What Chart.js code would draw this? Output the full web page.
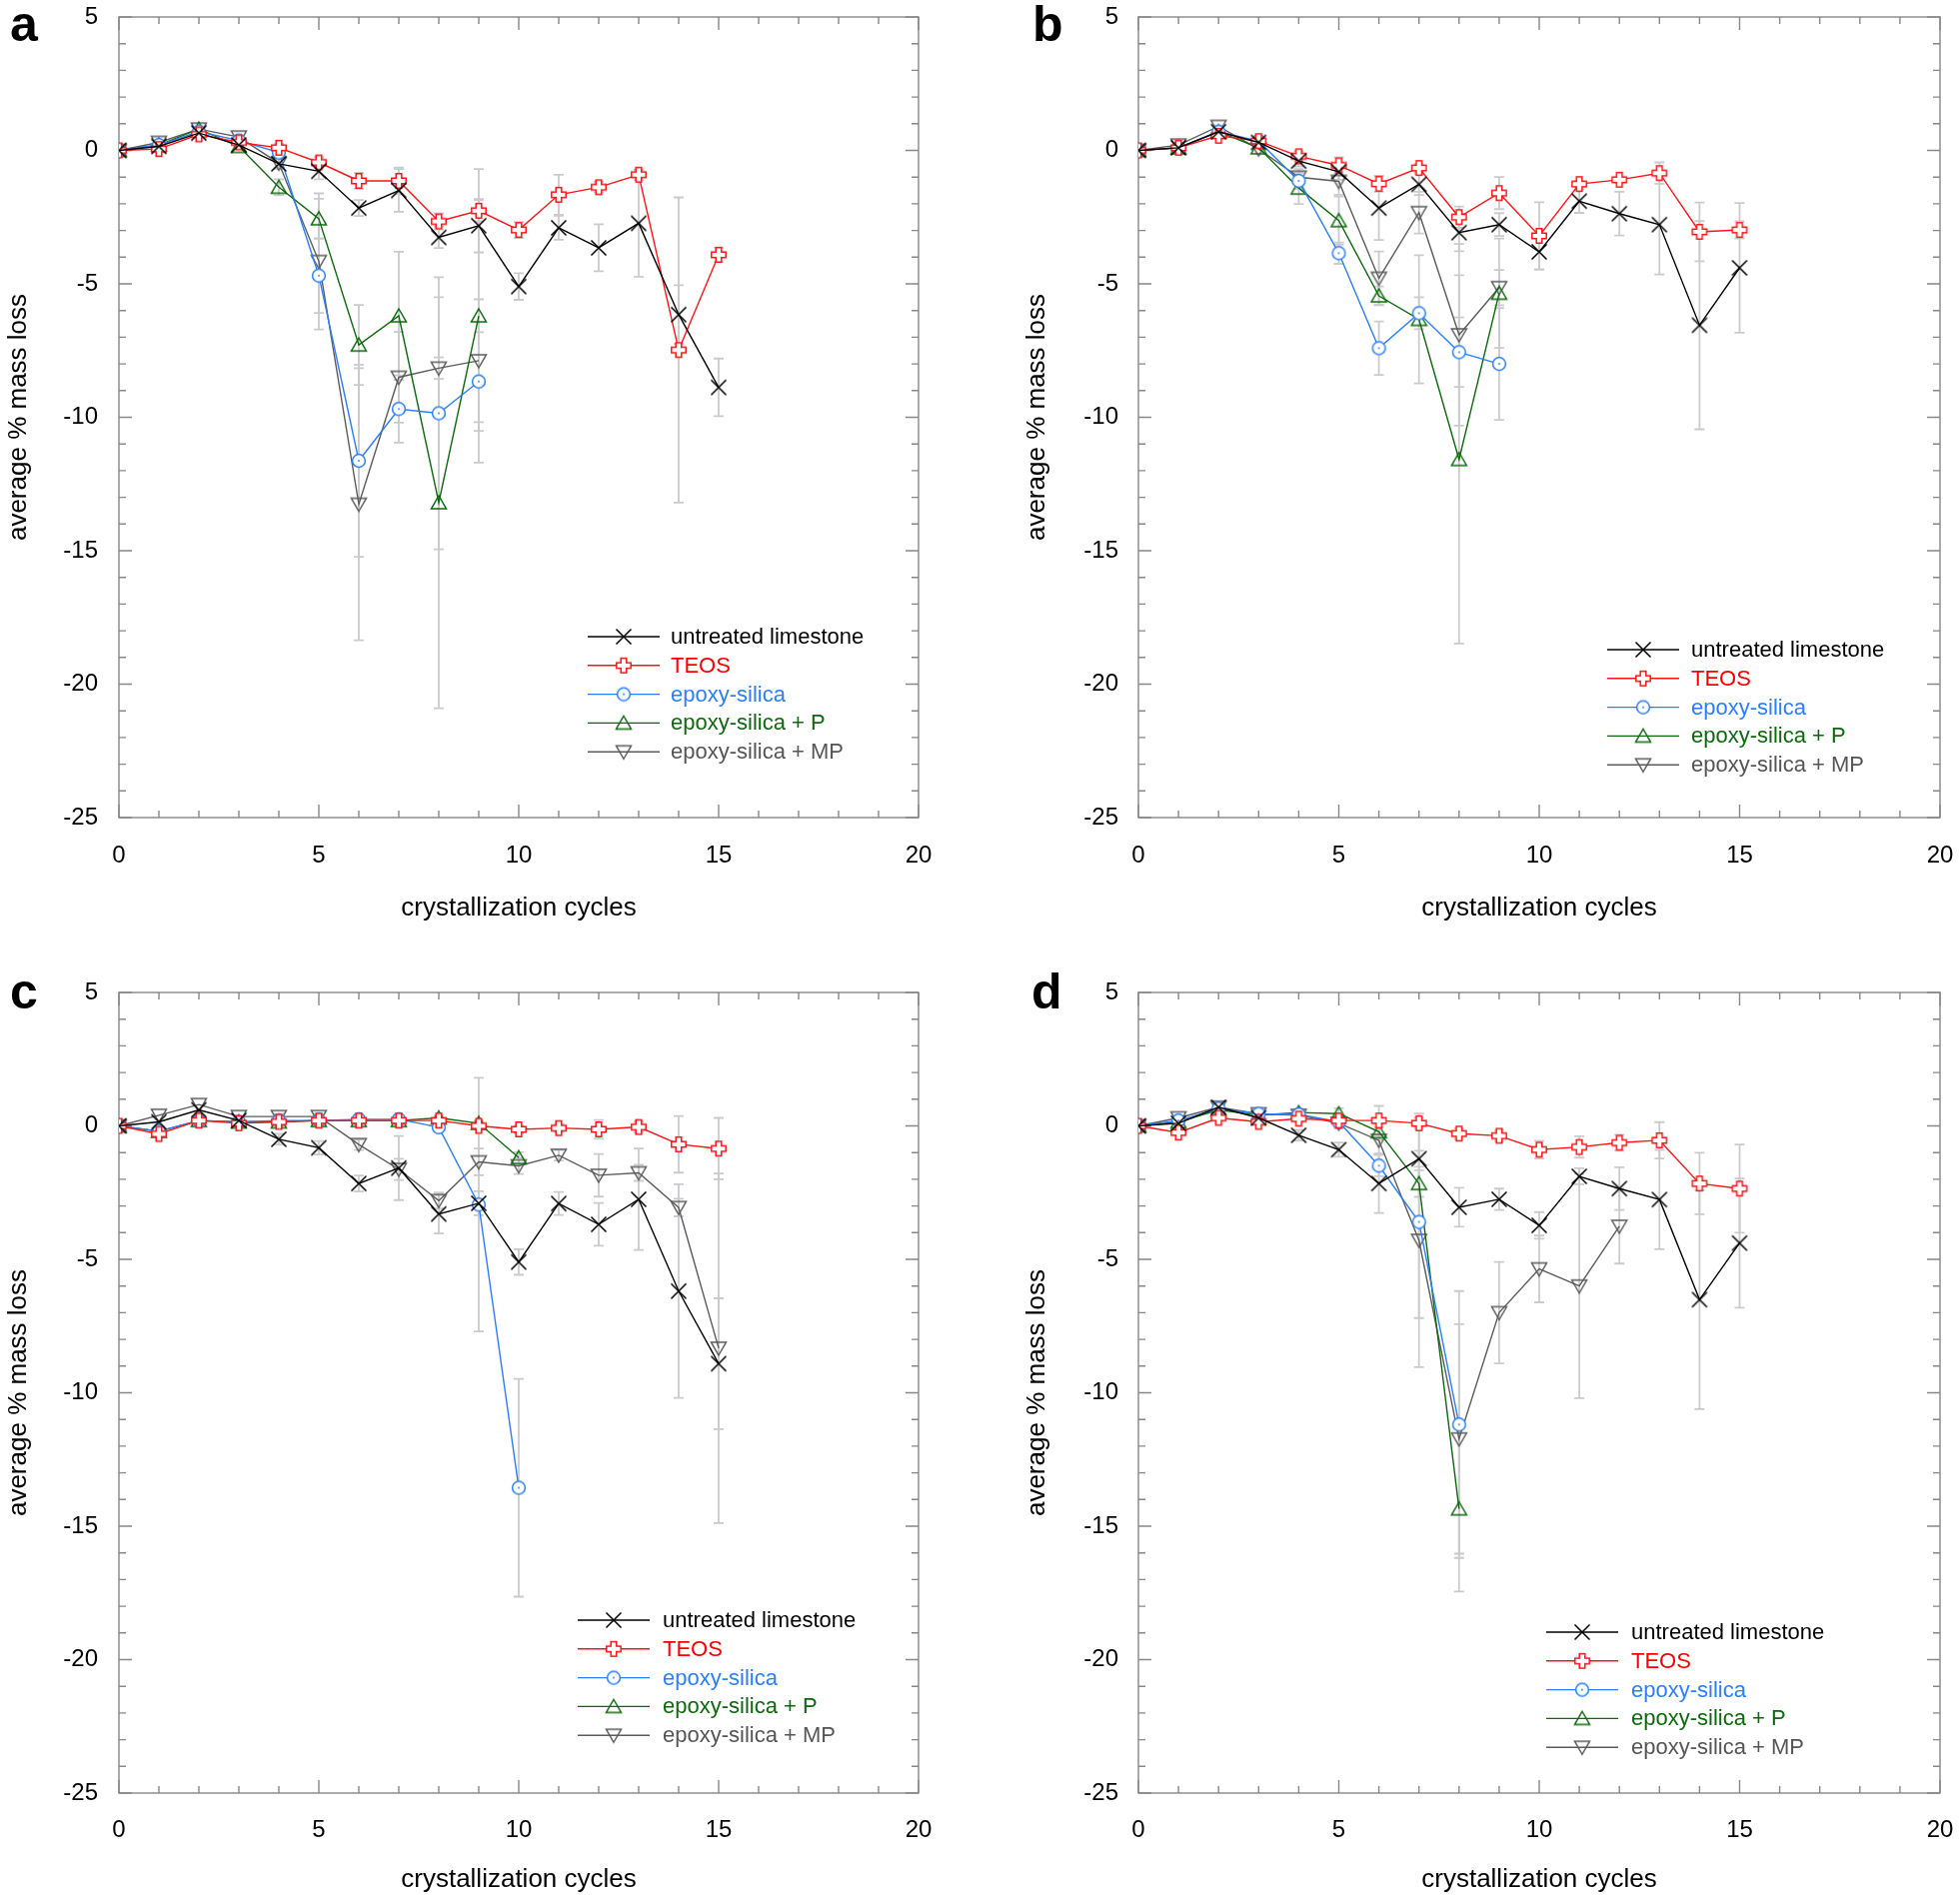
<!DOCTYPE html>
<html><head><meta charset="utf-8">
<script src="https://cdn.jsdelivr.net/npm/chart.js@4.4.0/dist/chart.umd.min.js"></script>
<style>
html,body{margin:0;padding:0;background:#fff;width:1961px;height:1900px;overflow:hidden}
canvas{position:absolute;display:block}
</style></head><body>
<canvas id="ca" width="980" height="950" style="left:0;top:0"></canvas>
<canvas id="cb" width="981" height="950" style="left:980px;top:0"></canvas>
<canvas id="cc" width="980" height="950" style="left:0;top:950px"></canvas>
<canvas id="cd" width="981" height="950" style="left:980px;top:950px"></canvas>
<script>
// ---------------- data ----------------
const cycles = [0,1,2,3,4,5,6,7,8,9,10,11,12,13,14,15];
const seriesNames = ['untreated limestone','TEOS','epoxy-silica','epoxy-silica + P','epoxy-silica + MP'];
const xTitle = 'crystallization cycles';
const yTitle = 'average % mass loss';
const panelLetters = ['a','b','c','d'];

// panel a
const aUntreated    = [0, 0.15, 0.65, 0.2, -0.5, -0.78, -2.16, -1.5, -3.26, -2.82, -5.1, -2.9, -3.65, -2.73, -6.15, -8.88];
const aUntreatedErr = [0, 0, 0, 0, 0.2, 0.3, 0.3, 0.8, 0.4, 1.0, 0.5, 0.45, 0.88, 2.0, 1.1, 1.08];
const aTEOS         = [0, 0.05, 0.6, 0.3, 0.1, -0.45, -1.14, -1.14, -2.66, -2.26, -2.98, -1.66, -1.38, -0.91, -7.48, -3.91];
const aTEOSErr      = [0, 0, 0, 0, 0.15, 0.2, 0.3, 0.5, 0.3, 0.4, 0.3, 0.75, 0.2, 0.2, 5.72, 0.27];
const aEpoxy        = [0, 0.2, 0.7, 0.37, -0.08, -4.69, -11.63, -9.69, -9.85, -8.66];
const aEpoxyErr     = [0, 0, 0, 0, 0.2, 1.4, 3.6, 1.26, 5.1, 1.85];
const aEpoxyP       = [0, 0.2, 0.8, 0.15, -1.38, -2.56, -7.29, -6.2, -13.2, -6.2];
const aEpoxyPErr    = [0, 0, 0, 0, 0.3, 0.75, 1.5, 2.4, 7.7, 5.5];
const aEpoxyMP      = [0, 0.3, 0.8, 0.5, -0.48, -4.16, -13.26, -8.5, -8.16, -7.88];
const aEpoxyMPErr   = [0, 0, 0, 0, 0.2, 2.55, 5.1, 1.7, 0.4, 2.3];

// panel b
const bUntreated    = [0, 0.1, 0.7, 0.3, -0.4, -0.8, -2.16, -1.27, -3.08, -2.78, -3.8, -1.9, -2.37, -2.78, -6.55, -4.4];
const bUntreatedErr = [0, 0, 0, 0, 0.2, 0.3, 1.2, 0.4, 0.7, 0.43, 0.66, 0.44, 0.82, 1.87, 3.9, 2.43];
const bTEOS         = [0, 0.1, 0.55, 0.35, -0.22, -0.56, -1.25, -0.66, -2.5, -1.6, -3.2, -1.26, -1.1, -0.85, -3.05, -2.98];
const bTEOSErr      = [0, 0, 0, 0, 0.2, 0.3, 0.3, 0.15, 0.4, 0.6, 1.26, 0.1, 0.1, 0.4, 1.1, 0.32];
const bEpoxy        = [0, 0.1, 0.7, 0.35, -1.14, -3.85, -7.41, -6.1, -7.56, -8.0];
const bEpoxyErr     = [0, 0, 0, 0, 0.3, 0.4, 1.0, 0.6, 1.3, 2.1];
const bEpoxyP       = [0, 0.1, 0.7, 0.1, -1.41, -2.63, -5.45, -6.33, -11.58, -5.35];
const bEpoxyPErr    = [0, 0, 0, 0, 0.6, 0.9, 0.35, 2.4, 6.9, 2.05];
const bEpoxyMP      = [0, 0.2, 0.9, 0.05, -1.0, -1.16, -4.79, -2.33, -6.91, -5.14];
const bEpoxyMPErr   = [0, 0, 0, 0, 0.3, 0.5, 1.0, 0.78, 3.4, 0.66];

// panel c
const cUntreated    = [0, 0.15, 0.6, 0.2, -0.5, -0.82, -2.16, -1.58, -3.3, -2.9, -5.1, -2.91, -3.69, -2.75, -6.19, -8.91];
const cUntreatedErr = [0, 0, 0, 0, 0.2, 0.25, 0.3, 1.2, 0.73, 0.45, 0.48, 0.43, 0.8, 1.9, 4.0, 2.45];
const cTEOS         = [0, -0.3, 0.2, 0.1, 0.15, 0.2, 0.2, 0.2, 0.2, 0.0, -0.13, -0.08, -0.13, -0.04, -0.69, -0.85];
const cTEOSErr      = [0, 0, 0, 0, 0.1, 0.1, 0.1, 0.1, 0.1, 0.1, 0.15, 0.15, 0.35, 0.2, 1.06, 1.15];
const cEpoxy        = [0, -0.2, 0.2, 0.15, 0.2, 0.2, 0.25, 0.25, -0.05, -2.95, -13.56];
const cEpoxyErr     = [0, 0, 0, 0, 0.1, 0.1, 0.1, 0.1, 0.1, 4.75, 4.08];
const cEpoxyP       = [0, -0.2, 0.2, 0.15, 0.15, 0.2, 0.2, 0.2, 0.3, 0.1, -1.19];
const cEpoxyPErr    = [0, 0, 0, 0, 0.1, 0.1, 0.1, 0.1, 0.1, 0.1, 0.2];
const cEpoxyMP      = [0, 0.4, 0.8, 0.35, 0.35, 0.35, -0.7, -1.63, -2.8, -1.35, -1.5, -1.1, -1.85, -1.76, -3.06, -8.33];
const cEpoxyMPErr   = [0, 0, 0, 0, 0.1, 0.1, 0.2, 0.4, 0.3, 0.5, 0.3, 0.2, 0.8, 0.3, 0.33, 6.55];

// panel d
const dUntreated    = [0, 0.1, 0.7, 0.3, -0.35, -0.89, -2.16, -1.23, -3.05, -2.75, -3.73, -1.89, -2.35, -2.76, -6.51, -4.39];
const dUntreatedErr = [0, 0, 0, 0, 0.2, 0.27, 1.1, 0.3, 0.73, 0.4, 0.5, 0.3, 0.8, 1.86, 4.1, 2.42];
const dTEOS         = [0, -0.25, 0.3, 0.15, 0.27, 0.2, 0.2, 0.1, -0.29, -0.37, -0.89, -0.79, -0.63, -0.54, -2.16, -2.35];
const dTEOSErr      = [0, 0, 0, 0, 0.1, 0.1, 0.55, 0.2, 0.2, 0.2, 0.33, 0.4, 0.3, 0.68, 1.15, 1.65];
const dEpoxy        = [0, 0.2, 0.65, 0.45, 0.43, 0.15, -1.49, -3.6, -11.19];
const dEpoxyErr     = [0, 0, 0, 0, 0.1, 0.2, 0.4, 3.6, 5.0];
const dEpoxyP       = [0, 0.15, 0.6, 0.4, 0.5, 0.46, -0.22, -2.16, -14.35];
const dEpoxyPErr    = [0, 0, 0, 0, 0.1, 0.2, 0.3, 0.5, 3.1];
const dEpoxyMP      = [0, 0.3, 0.7, 0.45, 0.4, 0.1, -0.54, -4.29, -11.73, -7.0, -5.36, -6.0, -3.76];
const dEpoxyMPErr   = [0, 0, 0, 0, 0.1, 0.2, 0.5, 4.75, 4.3, 1.9, 1.25, 4.2, 1.4];

// ---------------- styles ----------------
const FONT = "'Liberation Sans', Arial, Helvetica, sans-serif";
const lineColors = ['#000000', '#ff1414', '#2a7fff', '#0b6a0b', '#5c5c5c'];
const textColors = ['#000000', '#ff0000', '#2a7fff', '#0b6a0b', '#555555'];
const markerKinds = ['x', 'plus', 'circle', 'tri', 'tridown'];

function markerImg(kind, color) {
  const s = 24, c = document.createElement('canvas');
  c.width = s; c.height = s;
  const g = c.getContext('2d');
  g.translate(s / 2, s / 2);
  g.strokeStyle = color; g.fillStyle = color; g.lineWidth = 1.5;
  g.beginPath();
  if (kind === 'x') {
    const d = 7.5;
    g.moveTo(-d, -d); g.lineTo(d, d); g.moveTo(d, -d); g.lineTo(-d, d);
    g.stroke();
  } else if (kind === 'plus') {
    const a = 7.2, b = 2.8;
    const p = [[-b,-a],[b,-a],[b,-b],[a,-b],[a,b],[b,b],[b,a],[-b,a],[-b,b],[-a,b],[-a,-b],[-b,-b]];
    g.moveTo(p[0][0], p[0][1]);
    for (let i = 1; i < p.length; i++) g.lineTo(p[i][0], p[i][1]);
    g.closePath();
    g.fillStyle = '#ffffff'; g.fill();
    g.stroke();
  } else if (kind === 'circle') {
    g.arc(0, 0, 6.4, 0, Math.PI * 2);
    g.fillStyle = '#ffffff'; g.fill();
    g.stroke();
    g.beginPath(); g.fillStyle = color; g.arc(0, 0, 0.9, 0, Math.PI * 2); g.fill();
  } else if (kind === 'tri') {
    g.moveTo(0, -7); g.lineTo(7.5, 6); g.lineTo(-7.5, 6); g.closePath(); g.stroke();
  } else if (kind === 'tridown') {
    g.moveTo(0, 7); g.lineTo(7.5, -6); g.lineTo(-7.5, -6); g.closePath(); g.stroke();
  }
  return c;
}
const markers = markerKinds.map((k, i) => markerImg(k, lineColors[i]));

// ---------------- plugins ----------------
const errorBarPlugin = {
  id: 'errorBars',
  beforeDatasetsDraw(chart) {
    const {ctx, scales: {x, y}} = chart;
    ctx.save();
    ctx.strokeStyle = '#cbcbcf';
    ctx.lineWidth = 1.8;
    chart.data.datasets.forEach(ds => {
      if (!ds.errorBars) return;
      ds.data.forEach((pt, j) => {
        const e = ds.errorBars[j];
        if (!e) return;
        const px = x.getPixelForValue(pt.x);
        const p1 = y.getPixelForValue(pt.y + e);
        const p2 = y.getPixelForValue(pt.y - e);
        ctx.beginPath();
        ctx.moveTo(px, p1); ctx.lineTo(px, p2);
        ctx.moveTo(px - 5, p1); ctx.lineTo(px + 5, p1);
        ctx.moveTo(px - 5, p2); ctx.lineTo(px + 5, p2);
        ctx.stroke();
      });
    });
    ctx.restore();
  }
};

const framePlugin = {
  id: 'frame',
  beforeDatasetsDraw(chart) {
    const {ctx, chartArea: a, scales: {x, y}} = chart;
    ctx.save();
    ctx.strokeStyle = '#888888';
    ctx.lineWidth = 1.4;
    ctx.strokeRect(a.left, a.top, a.right - a.left, a.bottom - a.top);
    ctx.beginPath();
    for (let v = x.min; v <= x.max; v++) {
      const px = x.getPixelForValue(v), L = (v % 5 === 0) ? 13 : 7;
      ctx.moveTo(px, a.bottom); ctx.lineTo(px, a.bottom - L);
      ctx.moveTo(px, a.top); ctx.lineTo(px, a.top + L);
    }
    for (let v = y.min; v <= y.max; v++) {
      const py = y.getPixelForValue(v), L = (v % 5 === 0) ? 13 : 7;
      ctx.moveTo(a.left, py); ctx.lineTo(a.left + L, py);
      ctx.moveTo(a.right, py); ctx.lineTo(a.right - L, py);
    }
    ctx.stroke();
    ctx.restore();
  }
};

const legendPlugin = {
  id: 'panelLegend',
  afterDraw(chart, args, o) {
    const {ctx, chartArea: a} = chart;
    ctx.save();
    ctx.font = '22px ' + FONT;
    ctx.textBaseline = 'middle';
    ctx.textAlign = 'left';
    chart.data.datasets.forEach((ds, i) => {
      const yy = a.top + o.y0 + i * o.dy;
      const x0 = a.left + o.x0, x1 = x0 + 72;
      ctx.strokeStyle = ds.borderColor; ctx.lineWidth = 1.4;
      ctx.beginPath(); ctx.moveTo(x0, yy); ctx.lineTo(x1, yy); ctx.stroke();
      const m = ds.pointStyle;
      ctx.drawImage(m, (x0 + x1) / 2 - m.width / 2, yy - m.height / 2);
      ctx.fillStyle = ds.legendColor;
      ctx.fillText(ds.label, a.left + o.tx, yy + 1);
    });
    // panel letter
    ctx.font = 'bold 50px ' + FONT;
    ctx.fillStyle = '#000';
    ctx.textBaseline = 'alphabetic';
    ctx.fillText(o.letter, o.lx, o.ly);
    ctx.restore();
  }
};

// ---------------- build ----------------
function makeDatasets(vals, errs) {
  return vals.map((v, k) => ({
    label: seriesNames[k],
    data: v.map((yv, i) => ({x: cycles[i], y: yv})),
    errorBars: errs[k],
    borderColor: lineColors[k],
    legendColor: textColors[k],
    borderWidth: 1.4,
    pointStyle: markers[k],
    pointRadius: 8,
    pointHoverRadius: 8,
    fill: false,
    tension: 0
  }));
}

function makeChart(id, vals, errs, g) {
  new Chart(document.getElementById(id), {
    type: 'line',
    data: {datasets: makeDatasets(vals, errs)},
    options: {
      responsive: false,
      animation: false,
      devicePixelRatio: 1,
      layout: {padding: {left: 0, top: g.top, right: g.right, bottom: 0}},
      plugins: {
        legend: {display: false},
        tooltip: {enabled: false},
        panelLegend: g.legend
      },
      scales: {
        x: {
          type: 'linear', min: 0, max: 20,
          ticks: {stepSize: 5, padding: g.xtickPad, autoSkip: false, maxRotation: 0, color: '#000', font: {family: FONT, size: 24}},
          grid: {display: false, drawTicks: false},
          border: {display: false},
          title: {display: true, text: xTitle, color: '#000', font: {family: FONT, size: 26}, padding: {top: 0, bottom: g.xtPad}},
          afterFit: s => { s.height = g.xh; s.paddingLeft = 5; s.paddingRight = 5; }
        },
        y: {
          type: 'linear', min: -25, max: 5,
          ticks: {stepSize: 5, padding: g.ytickPad, autoSkip: false, color: '#000', font: {family: FONT, size: 24}},
          grid: {display: false, drawTicks: false},
          border: {display: false},
          title: {display: true, text: yTitle, color: '#000', font: {family: FONT, size: 26}, padding: {top: g.ytPad, bottom: 0}},
          afterFit: s => { s.width = g.yw; s.paddingTop = 5; s.paddingBottom = 5; }
        }
      }
    },
    plugins: [errorBarPlugin, framePlugin, legendPlugin]
  });
}

makeChart('ca',
  [aUntreated, aTEOS, aEpoxy, aEpoxyP, aEpoxyMP],
  [aUntreatedErr, aTEOSErr, aEpoxyErr, aEpoxyPErr, aEpoxyMPErr],
  {top: 17, right: 61, xh: 132, yw: 119, xtPad: 26, ytPad: 3, ytickPad: 21, xtickPad: 24,
   legend: {x0: 469, tx: 552, y0: 620, dy: 28.8, letter: panelLetters[0], lx: 10, ly: 41}});

makeChart('cb',
  [bUntreated, bTEOS, bEpoxy, bEpoxyP, bEpoxyMP],
  [bUntreatedErr, bTEOSErr, bEpoxyErr, bEpoxyPErr, bEpoxyMPErr],
  {top: 17, right: 20, xh: 132, yw: 159, xtPad: 26, ytPad: 42, ytickPad: 20, xtickPad: 24,
   legend: {x0: 469, tx: 553, y0: 633, dy: 28.8, letter: panelLetters[1], lx: 53, ly: 41}});

makeChart('cc',
  [cUntreated, cTEOS, cEpoxy, cEpoxyP, cEpoxyMP],
  [cUntreatedErr, cTEOSErr, cEpoxyErr, cEpoxyPErr, cEpoxyMPErr],
  {top: 43, right: 61, xh: 106, yw: 119, xtPad: 4, ytPad: 3, ytickPad: 21, xtickPad: 23,
   legend: {x0: 459, tx: 544, y0: 628, dy: 28.8, letter: panelLetters[2], lx: 10, ly: 59}});

makeChart('cd',
  [dUntreated, dTEOS, dEpoxy, dEpoxyP, dEpoxyMP],
  [dUntreatedErr, dTEOSErr, dEpoxyErr, dEpoxyPErr, dEpoxyMPErr],
  {top: 43, right: 20, xh: 106, yw: 159, xtPad: 4, ytPad: 42, ytickPad: 20, xtickPad: 23,
   legend: {x0: 408, tx: 493, y0: 640, dy: 28.8, letter: panelLetters[3], lx: 52, ly: 59}});
</script>
</body></html>
